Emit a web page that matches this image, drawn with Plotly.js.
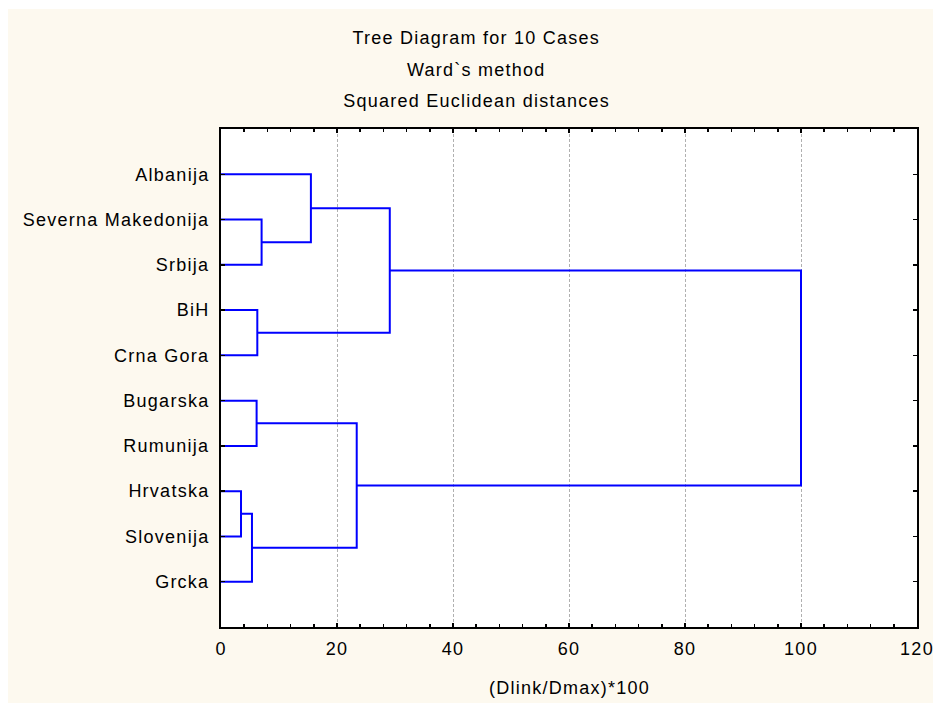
<!DOCTYPE html>
<html>
<head>
<meta charset="utf-8">
<script src="https://cdn.plot.ly/plotly-3.0.1.min.js"></script>
<style>
  html, body { margin: 0; padding: 0; background: #ffffff; }
  #chart { position: absolute; left: 8px; top: 9px; width: 925px; height: 694px; }
  #chart svg text { letter-spacing: 1.25px; }
</style>
</head>
<body>
<div id="chart"></div>
<script>
// ---- data ----
const leaves = ['Albanija', 'Severna Makedonija', 'Srbija', 'BiH', 'Crna Gora',
                'Bugarska', 'Rumunija', 'Hrvatska', 'Slovenija', 'Grcka'];
// each merge: [childA, childB, linkage distance (Dlink/Dmax)*100]; leaves 0..9, clusters from 10
const mergeA = [7, 10, 5, 3, 1, 0, 11, 15, 17];
const mergeB = [8, 9, 6, 4, 2, 14, 12, 13, 16];
const mergeH = [3.45, 5.34, 6.14, 6.26, 7.0, 15.5, 23.4, 29.1, 100];
const xTickVals = [0, 20, 40, 60, 80, 100, 120];
const titleLines = ['Tree Diagram for 10 Cases', 'Ward`s method', 'Squared Euclidean distances'];
const xTitle = '(Dlink/Dmax)*100';

// ---- build dendrogram paths ----
const nodeY = leaves.map((_, i) => i + 1);
const nodeH = leaves.map(() => 0);
const xs = [], ys = [];
for (let k = 0; k < mergeH.length; k++) {
  const a = mergeA[k], b = mergeB[k], h = mergeH[k];
  xs.push(nodeH[a], h, h, nodeH[b], null);
  ys.push(nodeY[a], nodeY[a], nodeY[b], nodeY[b], null);
  nodeY.push((nodeY[a] + nodeY[b]) / 2);
  nodeH.push(h);
}

const W = 925, H = 694;
const M = { l: 213, r: 16, t: 120, b: 76 };
const pw = W - M.l - M.r, ph = H - M.t - M.b;
const px = x => (x - M.l) / pw;
const py = y => 1 - (y - M.t) / ph;

const font = { family: 'Liberation Sans, Arial, sans-serif', size: 18, color: '#000000' };
const titleY = [29, 61, 92.5];
const annotations = titleLines.map((t, i) => ({
  text: t, xref: 'paper', yref: 'paper', x: px(468), y: py(titleY[i]),
  xanchor: 'center', yanchor: 'middle', showarrow: false, font: font
}));
annotations.push({
  text: xTitle, xref: 'paper', yref: 'paper', x: 0.5, y: py(679),
  xanchor: 'center', yanchor: 'middle', showarrow: false, font: font
});

const trace = {
  x: xs, y: ys, type: 'scatter', mode: 'lines',
  line: { color: '#0000ff', width: 2 }, hoverinfo: 'skip', showlegend: false
};

const layout = {
  width: W, height: H,
  margin: M,
  paper_bgcolor: '#fdf9ef',
  plot_bgcolor: '#ffffff',
  font: font,
  showlegend: false,
  xaxis: {
    range: [0, 120], tickvals: xTickVals, ticks: 'inside', ticklen: 4, tickwidth: 1.5,
    tickcolor: '#000', showline: true, linecolor: '#000', linewidth: 2, mirror: 'allticks',
    showgrid: true, gridcolor: '#b0b0b0', gridwidth: 1, griddash: '3px,2px',
    zeroline: false, tickfont: font, ticklabelstandoff: 4,
    minor: { dtick: 4, tick0: 0, ticks: 'inside', ticklen: 3, tickcolor: '#000', tickwidth: 1.5, showgrid: false }
  },
  yaxis: {
    range: [11, 0], tickvals: leaves.map((_, i) => i + 1), ticktext: leaves,
    ticks: 'inside', ticklen: 4, tickwidth: 1.5, tickcolor: '#000',
    showline: true, linecolor: '#000', linewidth: 2, mirror: 'allticks',
    showgrid: false, zeroline: false, tickfont: font, ticklabelstandoff: 6
  },
  annotations: annotations
};

Plotly.newPlot('chart', [trace], layout, { staticPlot: true, displayModeBar: false });
</script>
</body>
</html>
